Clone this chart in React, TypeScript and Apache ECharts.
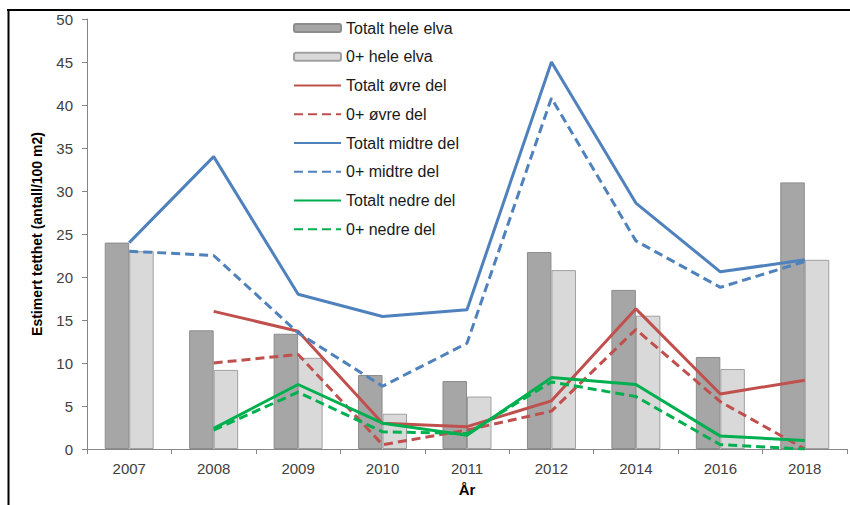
import React, { useEffect, useRef } from "react";
import * as echarts from "echarts";

const categories = ["2007", "2008", "2009", "2010", "2011", "2012", "2014", "2016", "2018"];
const totaltHele = [24.0, 13.8, 13.4, 8.6, 7.9, 22.9, 18.5, 10.7, 31.0];
const nullHele = [23.0, 9.2, 10.6, 4.1, 6.1, 20.8, 15.5, 9.3, 22.0];
const totaltOvre = [null, 16.0, 13.7, 3.0, 2.6, 5.6, 16.3, 6.4, 8.0];
const nullOvre = [null, 10.0, 11.0, 0.5, 2.2, 4.4, 13.9, 5.5, 0];
const totaltMidtre = [24.0, 34.0, 18.0, 15.4, 16.2, 45.0, 28.6, 20.6, 22.0];
const nullMidtre = [23.0, 22.5, 13.5, 7.3, 12.3, 40.8, 24.2, 18.8, 21.8];
const totaltNedre = [null, 2.4, 7.5, 3.0, 1.6, 8.3, 7.5, 1.5, 1.0];
const nullNedre = [null, 2.2, 6.6, 2.0, 1.8, 7.8, 6.1, 0.5, 0];

const legendNames = [
  "Totalt hele elva",
  "0+ hele elva",
  "Totalt øvre del",
  "0+ øvre del",
  "Totalt midtre del",
  "0+ midtre del",
  "Totalt nedre del",
  "0+ nedre del",
];

const FONT = "'Liberation Sans', Arial, sans-serif";

export default function App() {
  const ref = useRef<HTMLDivElement>(null);
  useEffect(() => {
    if (!ref.current) return;
    const chart = echarts.init(ref.current, undefined, { renderer: "svg" });
    const lineSeries = (name: string, data: (number | null)[], color: string, dashed: boolean) => ({
      name,
      type: "line",
      data,
      symbol: "none",
      z: 5,
      lineStyle: { color, width: 3, type: dashed ? [9, 5] : "solid" },
      itemStyle: { color },
      connectNulls: false,
    });
    chart.setOption({
      animation: false,
      textStyle: { fontFamily: FONT },
      grid: { left: 87, top: 19, right: 3, bottom: 56, containLabel: false },
      legend: {
        orient: "vertical",
        left: 288,
        top: 14,
        itemWidth: 47,
        itemHeight: 8,
        itemGap: 10.75,
        textStyle: { fontSize: 16, color: "#1a1a1a", fontFamily: FONT, lineHeight: 18 },
        data: legendNames.map((n, i) => (i < 2 ? { name: n } : { name: n, itemStyle: { opacity: 0 } })),
      },
      xAxis: {
        type: "category",
        data: categories,
        name: "År",
        nameLocation: "middle",
        nameGap: 33,
        nameTextStyle: { fontSize: 15, fontWeight: "bold", color: "#000", fontFamily: FONT },
        axisLine: { lineStyle: { color: "#868686", width: 1 } },
        axisTick: { show: true, length: 5, lineStyle: { color: "#868686" } },
        axisLabel: { fontSize: 15, color: "#404040", margin: 12, fontFamily: FONT },
      },
      yAxis: {
        type: "value",
        min: 0,
        max: 50,
        interval: 5,
        name: "Estimert tetthet (antall/100 m2)",
        nameLocation: "middle",
        nameGap: 43,
        nameTextStyle: { fontSize: 14, fontWeight: "bold", color: "#000", fontFamily: FONT },
        axisLine: { show: true, lineStyle: { color: "#868686", width: 1 } },
        axisTick: { show: true, length: 5, lineStyle: { color: "#868686" } },
        splitLine: { show: false },
        axisLabel: { fontSize: 15, color: "#404040", margin: 14, fontFamily: FONT },
      },
      series: [
        {
          name: "Totalt hele elva",
          type: "bar",
          data: totaltHele,
          barWidth: 24.5,
          barGap: "0%",
          itemStyle: { color: "#A6A6A6", borderColor: "#8C8C8C", borderWidth: 1 },
        },
        {
          name: "0+ hele elva",
          type: "bar",
          data: nullHele,
          barWidth: 24.5,
          barGap: "0%",
          itemStyle: { color: "#D9D9D9", borderColor: "#A0A0A0", borderWidth: 1 },
        },
        lineSeries("Totalt øvre del", totaltOvre, "#C0504D", false),
        lineSeries("0+ øvre del", nullOvre, "#C0504D", true),
        lineSeries("Totalt midtre del", totaltMidtre, "#4F81BD", false),
        lineSeries("0+ midtre del", nullMidtre, "#4F81BD", true),
        lineSeries("Totalt nedre del", totaltNedre, "#00B050", false),
        lineSeries("0+ nedre del", nullNedre, "#00B050", true),
      ],
      graphic: [
        { type: "line", shape: { x1: 7, y1: 10, x2: 850, y2: 10 }, style: { stroke: "#000", lineWidth: 2 } },
        { type: "line", shape: { x1: 8.5, y1: 9, x2: 8.5, y2: 505 }, style: { stroke: "#000", lineWidth: 2 } },
      ],
    });
    return () => chart.dispose();
  }, []);
  return (
    <div
      ref={ref}
      style={{ position: "absolute", left: 0, top: 0, width: 850, height: 505, background: "#fff" }}
    />
  );
}
